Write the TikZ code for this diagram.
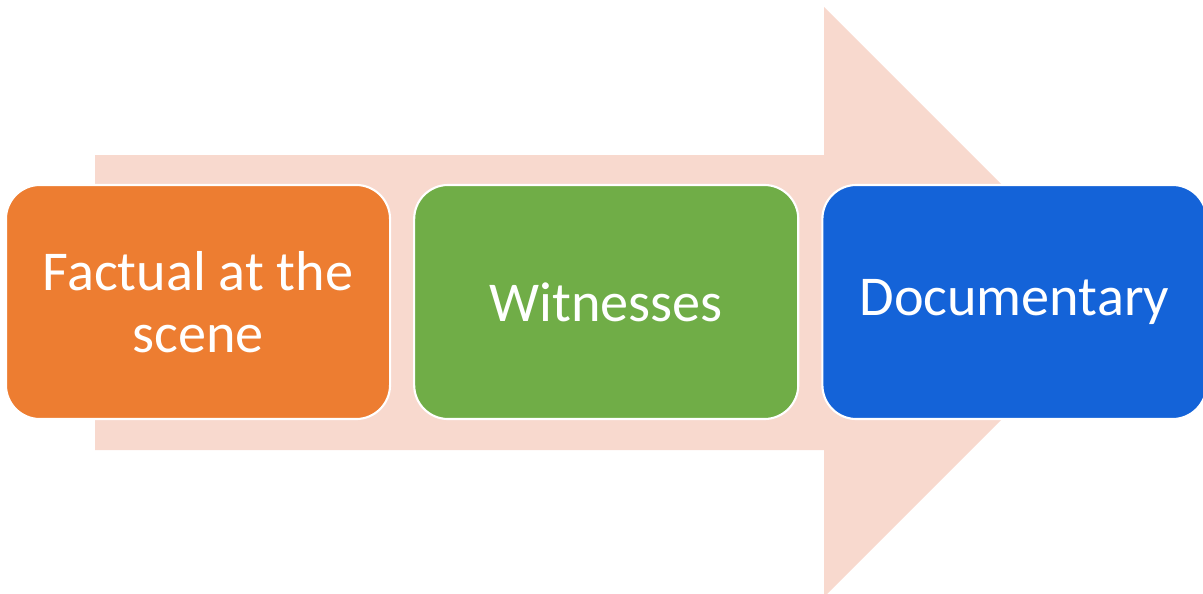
\documentclass[tikz,border=0pt]{standalone}
\usepackage{fontspec}
\setmainfont{Carlito}
\usetikzlibrary{positioning}

\definecolor{arrowpink}{HTML}{F8D9CE}
\definecolor{factorange}{HTML}{ED7D31}
\definecolor{witgreen}{HTML}{70AD47}
\definecolor{docblue}{HTML}{1463D8}

\tikzset{
  stepbox/.style={draw=white, line width=1.5pt, rounded corners=0.85cm,
    minimum width=9.6cm, minimum height=5.85cm, text=white, align=center,
    font=\fontsize{40}{44}\selectfont, inner sep=0pt}
}

\begin{document}
\begin{tikzpicture}[x=0.025cm, y=-0.025cm]
      \useasboundingbox (0, 0) rectangle (1203, 593);
      \clip (0, 0) rectangle (1203, 593);

      \fill[arrowpink] (95, 155) -- (824, 155) -- (824, 7) -- (1119, 302)
        -- (824, 597) -- (824, 450) -- (95, 450) -- cycle;

      \node[stepbox, fill=factorange] (factual) at (198, 302) {Factual at the\\scene};
      \node[stepbox, fill=witgreen, right=0.55cm of factual] (witnesses) {Witnesses};
      \node[stepbox, fill=docblue, right=0.55cm of witnesses] (documentary) {Documentary};
    \end{tikzpicture}
\end{document}
